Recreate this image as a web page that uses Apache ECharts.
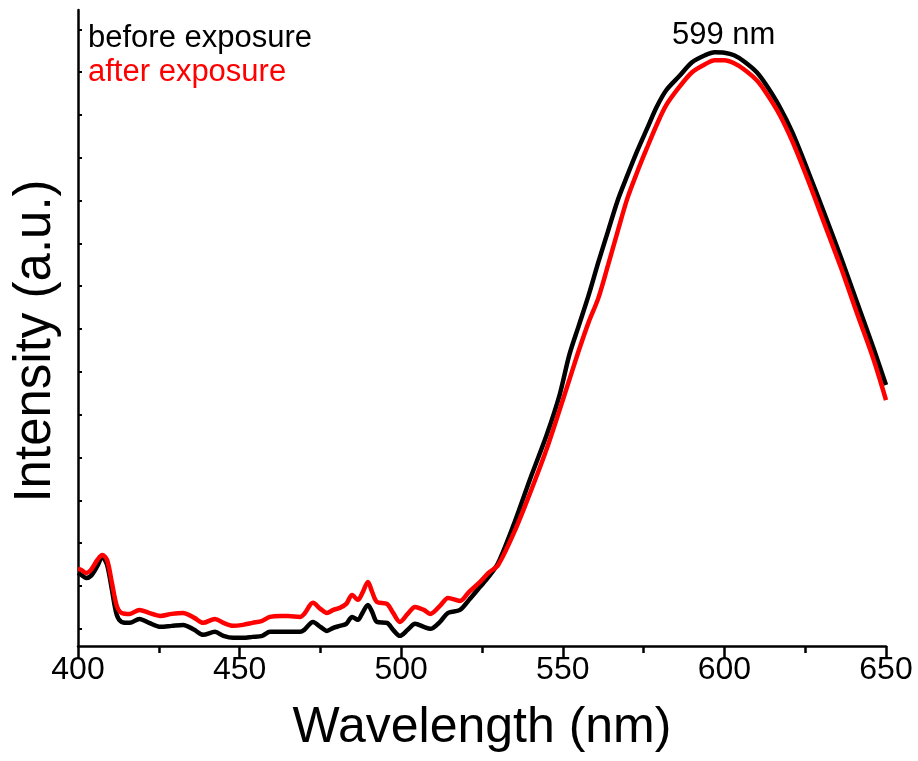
<!DOCTYPE html>
<html>
<head>
<meta charset="utf-8">
<script src="https://cdn.jsdelivr.net/npm/echarts@6/dist/echarts.min.js"></script>
<style>
html,body{margin:0;padding:0;background:#fff;}
#chart{width:918px;height:761px;}
</style>
</head>
<body>
<div id="chart"></div>
<script>
// Wavelength (nm)
var wavelengths = [400,401,402.5,404,406,407.5,409,410.5,412,413.5,416,419,422,425.5,429,432.5,436,438.7,442.4,445,448,451,454,457,459.4,462.5,465,468.7,470,472.7,475,477,479,481,483,484.8,486.6,488,489.7,491,492.5,495.6,497.5,499.6,502,504.3,507,509,512,514.5,518.2,521,524.4,527,530,535,540,545,549,552,555,558,561,564,567,570,573,576,579,582,586,590,594,597,600,603,606,610,613,617,621,626,631,636,641,646,650];
// Intensity before exposure (a.u.)
var beforeExposure = [1307,1260,1190,1237,1470,1680,1493,910,327,163,140,233,140,47,70,93,-23,-140,-70,-163,-210,-210,-187,-163,-70,-70,-70,-70,-23,163,47,-47,23,70,117,280,210,373,560,397,163,140,-23,-163,-23,117,47,0,163,373,443,677,980,1213,1540,2473,3523,4527,5460,6393,7093,7793,8563,9287,10010,10593,11153,11667,12180,12577,12903,13230,13393,13463,13452,13393,13253,12997,12693,12203,11597,10663,9683,8680,7630,6580,5693];
// Intensity after exposure (a.u.)
var afterExposure = [1400,1377,1307,1377,1610,1727,1610,1073,537,373,350,443,373,303,350,373,257,140,233,140,70,93,140,187,280,303,303,280,350,607,467,373,443,490,583,793,677,840,1097,863,630,583,373,163,350,513,443,350,537,723,653,863,1097,1307,1493,2263,3197,4200,5110,5810,6510,7163,7723,8493,9287,10057,10663,11223,11760,12227,12647,12997,13183,13277,13277,13207,13067,12810,12507,12017,11387,10453,9450,8447,7373,6323,5343];
var xTicks = [400,450,500,550,600,650];
var yTicks = [0,1000,2000,3000,4000,5000,6000,7000,8000,9000,10000,11000,12000,13000,14000];
var seriesNames = ['before exposure','after exposure'];
var peakLabel = '599 nm';

function pairs(ys){ return wavelengths.map(function(w,i){ return [w, ys[i]]; }); }

var FONT = '"Liberation Sans", Arial, sans-serif';
var chart = echarts.init(document.getElementById('chart'));
chart.setOption({
  animation:false,
  backgroundColor:'#fff',
  grid:{left:78,right:32,top:10,bottom:115,containLabel:false,outerBoundsMode:'none'},
  legend:{
    orient:'vertical', left:78, top:18, itemGap:3, icon:'none', itemWidth:0, itemHeight:0,
    data:[{name:seriesNames[0],textStyle:{color:'#000'}},{name:seriesNames[1],textStyle:{color:'#ff0000'}}],
    textStyle:{fontFamily:FONT,fontSize:31}
  },
  xAxis:{
    type:'value', min:400, max:650, interval:50,
    name:'Wavelength (nm)', nameLocation:'middle', nameGap:57,
    nameTextStyle:{fontFamily:FONT,fontSize:50,color:'#000'},
    axisLine:{onZero:false,lineStyle:{color:'#000',width:2.5}},
    axisTick:{show:true,length:12,lineStyle:{color:'#000',width:2.5}},
    minorTick:{show:true,splitNumber:2,length:7,lineStyle:{color:'#000',width:2.5}},
    axisLabel:{fontFamily:FONT,fontSize:32,color:'#000',margin:8,customValues:xTicks},
    splitLine:{show:false}
  },
  yAxis:{
    type:'value', min:-400, max:14450,
    name:'Intensity (a.u.)', nameLocation:'middle', nameGap:17,
    nameTextStyle:{fontFamily:FONT,fontSize:51,color:'#000',padding:[0,26,0,0]},
    axisLine:{show:true,onZero:false,lineStyle:{color:'#000',width:2.5}},
    axisTick:{show:true,inside:true,length:4,customValues:yTicks,lineStyle:{color:'#000',width:2}},
    axisLabel:{show:false},
    splitLine:{show:false}
  },
  series:[
    {name:seriesNames[0],type:'line',data:pairs(beforeExposure),showSymbol:false,symbol:'none',smooth:0.3,
     lineStyle:{color:'#000',width:4.5},itemStyle:{color:'#000'},
     markPoint:{symbol:'circle',symbolSize:0,data:[{type:'max'}],
       label:{show:true,position:'top',distance:3,offset:[9,2],formatter:peakLabel,fontFamily:FONT,fontSize:31,color:'#000'}}},
    {name:seriesNames[1],type:'line',data:pairs(afterExposure),showSymbol:false,symbol:'none',smooth:0.3,
     lineStyle:{color:'#ff0000',width:4.5},itemStyle:{color:'#ff0000'}}
  ]
});
</script>
</body>
</html>
